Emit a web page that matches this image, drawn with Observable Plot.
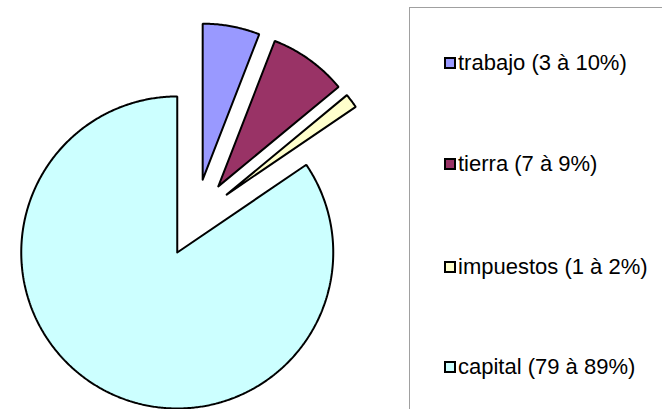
<!DOCTYPE html>
<html>
<head>
<meta charset="utf-8">
<script src="https://cdn.jsdelivr.net/npm/d3@7"></script>
<script src="https://cdn.jsdelivr.net/npm/@observablehq/plot@0.6"></script>
<style>
  html, body { margin: 0; padding: 0; background: #fff; }
  #wrap { position: relative; width: 662px; height: 409px; overflow: hidden; font-family: "Liberation Sans", Arial, sans-serif; }
  #legend { position: absolute; left: 409px; top: 7px; width: 300px; height: 420px; border-left: 1px solid #a0a0a0; border-top: 1px solid #a0a0a0; box-sizing: border-box; }
  .item { position: absolute; left: 34px; display: flex; align-items: center; font-size: 22px; color: #000; white-space: nowrap; transform: translateY(-50%); }
  .sw { width: 12px; height: 12px; border: 2px solid #000; box-sizing: border-box; margin-right: 2px; }
</style>
</head>
<body>
<div id="wrap"></div>
<script>
// Data
const categories = ["trabajo", "tierra", "impuestos", "capital"];
const labels = ["trabajo (3 à 10%)", "tierra (7 à 9%)", "impuestos (1 à 2%)", "capital (79 à 89%)"];
const shares = [5.9, 8.1, 1.5, 84.5];
const colors = ["#9999FF", "#993366", "#FFFFCC", "#CCFFFF"];

// Geometry (radius = 1 unit), Excel-style: start at 12 o'clock, clockwise, all slices exploded
const W = 662, H = 409;
const cx = 195, cy = 217.5, R = 156;
const explode = 0.25;
const total = d3.sum(shares);
const pts = [];
let acc = 0;
categories.forEach((name, i) => {
  const a0 = acc / total * 2 * Math.PI;
  acc += shares[i];
  const a1 = acc / total * 2 * Math.PI;
  const mid = (a0 + a1) / 2;
  const ox = explode * Math.sin(mid), oy = explode * Math.cos(mid);
  pts.push({name, x: ox, y: oy});
  const n = Math.max(4, Math.ceil((a1 - a0) / (Math.PI / 360)));
  for (let k = 0; k <= n; k++) {
    const a = a0 + (a1 - a0) * k / n;
    pts.push({name, x: ox + Math.sin(a), y: oy + Math.cos(a)});
  }
  pts.push({name, x: ox, y: oy});
});

const chart = Plot.plot({
  width: W,
  height: H,
  margin: 0,
  x: {domain: [-cx / R, (W - cx) / R], axis: null},
  y: {domain: [-(H - cy) / R, cy / R], axis: null},
  color: {domain: categories, range: colors},
  marks: [
    Plot.line(pts, {x: "x", y: "y", z: "name", fill: "name", stroke: "#000", strokeWidth: 2, strokeLinejoin: "miter", curve: "linear"})
  ]
});
const wrap = document.getElementById("wrap");
chart.style.position = "absolute";
chart.style.left = "0";
chart.style.top = "0";
wrap.appendChild(chart);

// Legend
const legend = document.createElement("div");
legend.id = "legend";
const itemY = [54.5, 156, 258.7, 359];
labels.forEach((lab, i) => {
  const it = document.createElement("div");
  it.className = "item";
  it.style.top = itemY[i] + "px";
  const sw = document.createElement("span");
  sw.className = "sw";
  sw.style.background = colors[i];
  const t = document.createElement("span");
  t.textContent = lab;
  it.appendChild(sw);
  it.appendChild(t);
  legend.appendChild(it);
});
wrap.appendChild(legend);
</script>
</body>
</html>
